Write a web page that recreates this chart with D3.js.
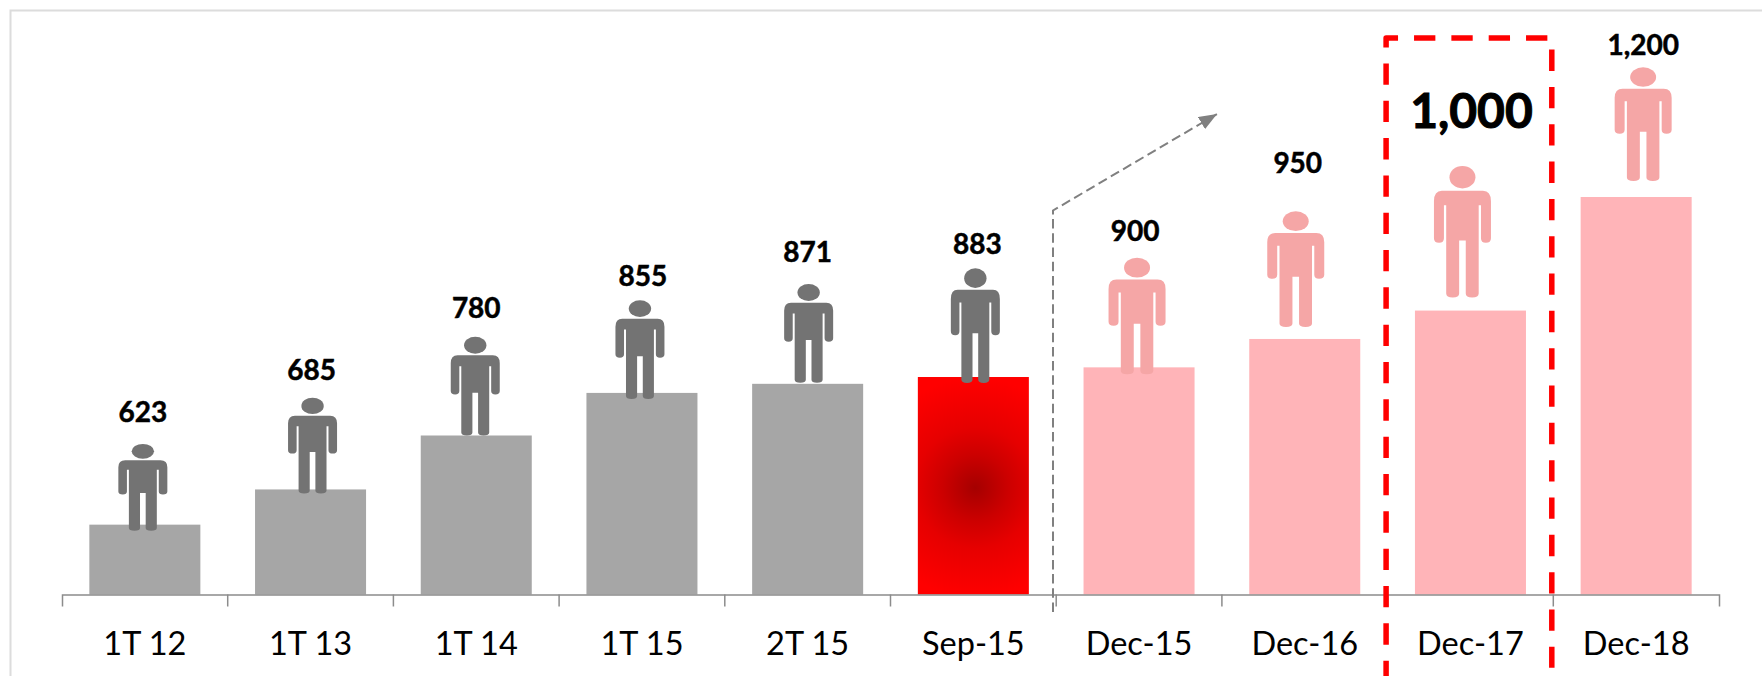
<!DOCTYPE html>
<html>
<head>
<meta charset="utf-8">
<script src="https://cdn.jsdelivr.net/npm/d3@7"></script>
<style>
  html, body { margin: 0; padding: 0; background: #fff; }
  svg { display: block; }
  text { font-family: Lato, "Open Sans", sans-serif; fill: #000; }
</style>
</head>
<body>
<svg id="chart" width="1762" height="676"></svg>
<script>
var categories = ["1T 12", "1T 13", "1T 14", "1T 15", "2T 15", "Sep-15", "Dec-15", "Dec-16", "Dec-17", "Dec-18"];
var headcount = [623, 685, 780, 855, 871, 883, 900, 950, 1000, 1200];
var stages = ["actual", "actual", "actual", "actual", "actual", "current", "target", "target", "target", "target"];
var highlighted = "Dec-17";

// hand placement of the little people, relative to their bars
var figureShift = [-2, 2, -1, -2, 1, 2, -2, -9, -8, 7];
var figureSink = [6, 4, 0, 6, -1, 6, 7, -12, -13, -16];
var figureHeight = [87, 96, 99, 99, 99, 115, 117, 116, 132, 114];
var labelLift = [103, 109, 118, 107, 122, 123, 126, 166, 183, 142];
var labelShift = [-2, 1, 0, 1, 0, 4, -4, -7, 1, 7];

var width = 1762, height = 676;
var baseline = 594.5;

var svg = d3.select("#chart");

var xScale = d3.scaleBand()
  .domain(categories)
  .range([62, 1719])
  .paddingInner(0.33)
  .paddingOuter(0.165);

var yScale = d3.scaleLinear()
  .domain([500, 1200])
  .range([baseline, 197]);

var barColor = { actual: "#a6a6a6", current: "url(#currentFill)", target: "#ffb4b8" };
var figureColor = { actual: "#737373", current: "#737373", target: "#f5a6a6" };
var figureWidth = { actual: 49, current: 49, target: 57 };

// frame around the slide, only top and left survive
svg.append("path")
  .attr("d", "M10.5," + height + "V10.5H" + width)
  .attr("fill", "none")
  .attr("stroke", "#dcdcdc")
  .attr("stroke-width", 2);

// radial shading of the current month bar
var currentIndex = stages.indexOf("current");
var gradient = svg.append("defs").append("radialGradient")
  .attr("id", "currentFill")
  .attr("gradientUnits", "userSpaceOnUse")
  .attr("cx", xScale(categories[currentIndex]) + xScale.bandwidth() / 2 + 2)
  .attr("cy", (yScale(headcount[currentIndex]) + baseline) / 2 + 2)
  .attr("r", 110);
gradient.append("stop").attr("offset", "0%").attr("stop-color", "#a50000");
gradient.append("stop").attr("offset", "30%").attr("stop-color", "#cc0000");
gradient.append("stop").attr("offset", "55%").attr("stop-color", "#e60000");
gradient.append("stop").attr("offset", "100%").attr("stop-color", "#ff0000");

svg.append("g")
  .selectAll("rect")
  .data(categories)
  .enter()
  .append("rect")
  .attr("x", function (d) { return xScale(d); })
  .attr("y", function (d, i) { return yScale(headcount[i]); })
  .attr("width", xScale.bandwidth())
  .attr("height", function (d, i) { return baseline - yScale(headcount[i]); })
  .attr("fill", function (d, i) { return barColor[stages[i]]; });

// axis: labels centred in the bands, ticks on the band edges
var xAxis = d3.axisBottom(xScale)
  .tickSizeInner(0)
  .tickSizeOuter(12)
  .tickPadding(50);

var axisGroup = svg.append("g")
  .attr("transform", "translate(0," + baseline + ")")
  .call(xAxis);

axisGroup.select(".domain")
  .attr("stroke", "#8c8c8c")
  .attr("stroke-width", 1.5);

axisGroup.selectAll(".tick text")
  .attr("dy", "0.32em")
  .style("font-size", "32.5px");

axisGroup.selectAll(".edge")
  .data(categories.slice(1))
  .enter()
  .append("line")
  .attr("class", "edge")
  .attr("x1", function (d) { return xScale(d) - xScale.step() * 0.33 / 2; })
  .attr("x2", function (d) { return xScale(d) - xScale.step() * 0.33 / 2; })
  .attr("y1", 0)
  .attr("y2", 12)
  .attr("stroke", "#8c8c8c")
  .attr("stroke-width", 1.5);

// one person, feet on the origin
function personPath(w, h) {
  var p = d3.path();
  var X = function (u) { return u * w; };
  var Y = function (v) { return (v - 1) * h; };
  p.moveTo(X(-0.36), Y(0.19));
  p.lineTo(X(0.36), Y(0.19));
  p.quadraticCurveTo(X(0.5), Y(0.19), X(0.5), Y(0.27));
  p.lineTo(X(0.5), Y(0.55));
  p.quadraticCurveTo(X(0.5), Y(0.585), X(0.41), Y(0.585));
  p.quadraticCurveTo(X(0.325), Y(0.585), X(0.325), Y(0.55));
  p.lineTo(X(0.325), Y(0.3));
  p.lineTo(X(0.285), Y(0.3));
  p.lineTo(X(0.285), Y(0.97));
  p.quadraticCurveTo(X(0.285), Y(1), X(0.17), Y(1));
  p.quadraticCurveTo(X(0.058), Y(1), X(0.058), Y(0.97));
  p.lineTo(X(0.058), Y(0.568));
  p.lineTo(X(-0.058), Y(0.568));
  p.lineTo(X(-0.058), Y(0.97));
  p.quadraticCurveTo(X(-0.058), Y(1), X(-0.17), Y(1));
  p.quadraticCurveTo(X(-0.285), Y(1), X(-0.285), Y(0.97));
  p.lineTo(X(-0.285), Y(0.3));
  p.lineTo(X(-0.325), Y(0.3));
  p.lineTo(X(-0.325), Y(0.55));
  p.quadraticCurveTo(X(-0.325), Y(0.585), X(-0.41), Y(0.585));
  p.quadraticCurveTo(X(-0.5), Y(0.585), X(-0.5), Y(0.55));
  p.lineTo(X(-0.5), Y(0.27));
  p.quadraticCurveTo(X(-0.5), Y(0.19), X(-0.36), Y(0.19));
  p.closePath();
  return p.toString();
}

var figures = svg.append("g")
  .selectAll("g")
  .data(categories)
  .enter()
  .append("g")
  .attr("transform", function (d, i) {
    var cx = xScale(d) + xScale.bandwidth() / 2 + figureShift[i];
    return "translate(" + cx + "," + (yScale(headcount[i]) + figureSink[i]) + ")";
  })
  .attr("fill", function (d, i) { return figureColor[stages[i]]; });

figures.append("path")
  .attr("d", function (d, i) { return personPath(figureWidth[stages[i]], figureHeight[i]); });

figures.append("ellipse")
  .attr("cx", 0)
  .attr("cy", function (d, i) { return -0.912 * figureHeight[i]; })
  .attr("rx", function (d, i) { return 0.228 * figureWidth[stages[i]]; })
  .attr("ry", function (d, i) { return 0.085 * figureHeight[i]; });

// value labels, thickened a little with a hairline stroke
svg.append("g")
  .selectAll("text")
  .data(categories)
  .enter()
  .append("text")
  .attr("x", function (d, i) { return xScale(d) + xScale.bandwidth() / 2 + labelShift[i]; })
  .attr("y", function (d, i) { return yScale(headcount[i]) - labelLift[i]; })
  .attr("text-anchor", "middle")
  .attr("stroke", "#000")
  .attr("stroke-width", function (d) { return d === highlighted ? 1 : 0.5; })
  .style("font-weight", 700)
  .style("font-size", function (d) { return d === highlighted ? "48px" : "28px"; })
  .text(function (d, i) { return d3.format(",")(headcount[i]); });

// dashed growth arrow from the split between actuals and targets
var splitX = 1053;
svg.append("defs").append("marker")
  .attr("id", "arrowHead")
  .attr("markerUnits", "userSpaceOnUse")
  .attr("viewBox", "0 0 18 14")
  .attr("refX", 18)
  .attr("refY", 7)
  .attr("markerWidth", 18)
  .attr("markerHeight", 14)
  .attr("orient", "auto")
  .append("path")
  .attr("d", "M0,0L18,7L0,14Z")
  .attr("fill", "#808080");

svg.append("path")
  .attr("d", "M" + splitX + ",612V210.5L1217,114")
  .attr("fill", "none")
  .attr("stroke", "#808080")
  .attr("stroke-width", 2)
  .attr("stroke-dasharray", "9.5 4.7")
  .attr("marker-end", "url(#arrowHead)");

// red dashed box around the highlighted year, running off the bottom
var boxLeft = xScale(highlighted) - xScale.step() * 0.33 / 2 - 1.5;
var boxRight = boxLeft + xScale.step();
svg.append("path")
  .attr("d", "M" + boxLeft + ",682V38H" + boxRight + "V667.7")
  .attr("fill", "none")
  .attr("stroke", "#ff0000")
  .attr("stroke-width", 5.5)
  .attr("stroke-linejoin", "round")
  .attr("stroke-dasharray", "21.33 16");
</script>
</body>
</html>
